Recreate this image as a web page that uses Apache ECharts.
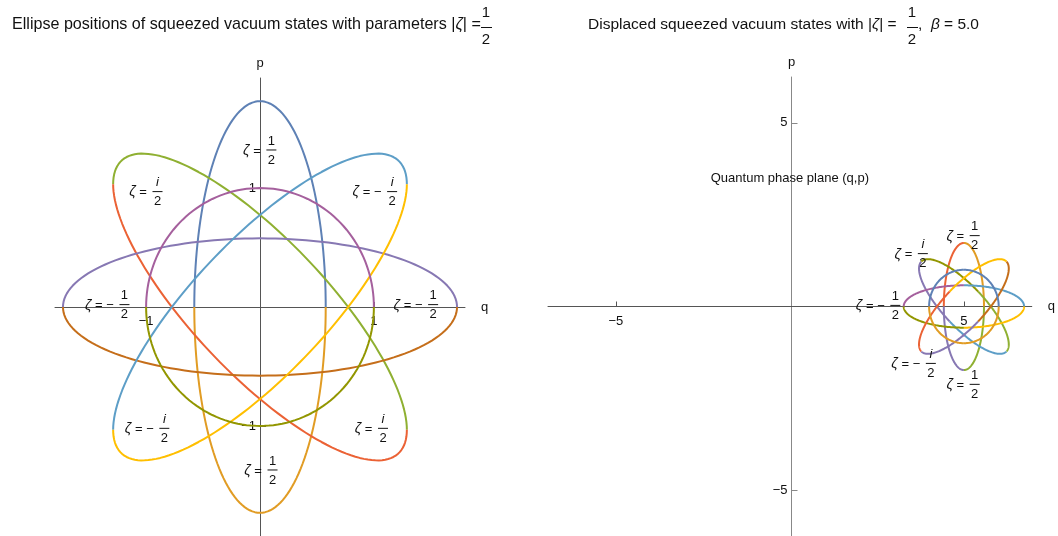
<!DOCTYPE html>
<html>
<head>
<meta charset="utf-8">
<script src="https://cdn.jsdelivr.net/npm/echarts@6/dist/echarts.min.js"></script>
<style>
  html, body { margin: 0; padding: 0; background: #fff; }
  #chart { width: 1058px; height: 536px; }
</style>
</head>
<body>
<div id="chart"></div>
<script>
// ---- left panel: squeezed vacuum ellipses (centre, semi axes, tilt in degrees)
var leftQ0 = [0, 0, 0, 0, 0];
var leftP0 = [0, 0, 0, 0, 0];
var leftMajor = [1.73, 1.73, 1.73, 1.73, 1.0];
var leftMinor = [0.577, 0.577, 0.577, 0.577, 1.0];
var leftTilt = [90, 135, 0, 45, 0];

// ---- right panel: displaced squeezed states, beta = 5
var rightQ0 = [5, 5, 5, 5, 5];
var rightP0 = [0, 0, 0, 0, 0];
var rightMajor = [1.73, 1.73, 1.73, 1.73, 1.0];
var rightMinor = [0.577, 0.577, 0.577, 0.577, 1.0];
var rightTilt = [90, 135, 0, 45, 0];

// ---- labels  zeta = (sign) num / 2
var leftLabelQ = [0.10, -0.90, 1.16, -1.19, 1.52, -0.84, 0.11, 1.08];
var leftLabelP = [1.32, 0.97, 0.97, 0.02, 0.02, -1.02, -1.37, -1.02];
var leftLabelSign = ['', '', '−', '−', '−', '−', '', ''];
var leftLabelNum = ['1', 'i', 'i', '1', '1', 'i', '1', 'i'];

var rightLabelQ = [5.31, 3.82, 3.03, 4.05, 5.31];
var rightLabelP = [1.93, 1.44, 0.03, -1.55, -2.12];
var rightLabelSign = ['', '', '−', '−', ''];
var rightLabelNum = ['1', 'i', '1', 'i', '1'];

// ---- axes
var leftTicks = [-1, 1];
var rightTicks = [-5, 5];
var noteText = 'Quantum phase plane (q,p)';
var noteQ = [0];
var noteP = [3.5];

// Mathematica 97 colours
var c97 = ['#5e81b5', '#e19c24', '#8fb032', '#eb6235', '#8778b3',
           '#c56e1a', '#5d9ec7', '#ffbf00', '#a5609d', '#929600'];
// left: upper / lower branch
var leftColors = [[0, 1], [2, 3], [4, 5], [6, 7], [8, 9]];
// right: four quarter arcs, counted from the +major tip anticlockwise
var rightColors = [[3, 4, 2, 1], [4, 6, 2, 9], [6, 8, 9, 7], [7, 3, 4, 5], [0, 0, 1, 1]];

var FONT = '"Liberation Sans", Arial, sans-serif';
var PI = Math.PI;

var LG = { left: 55, top: 78, width: 410, height: 458, qMin: -1.8, qMax: 1.8, pMin: -1.925, pMax: 1.925 };
var RG = { left: 548, top: 77, width: 487, height: 459, qMin: -6.95, qMax: 6.95, pMin: -6.25, pMax: 6.25 };

function ellPoint(q0, p0, a, b, phi, t) {
  var c = Math.cos(phi), s = Math.sin(phi);
  return [q0 + a * c * Math.cos(t) - b * s * Math.sin(t),
          p0 + a * s * Math.cos(t) + b * c * Math.sin(t)];
}

function ellipseRender(colorSets, quarters) {
  return function (params, api) {
    var q0 = api.value(0), p0 = api.value(1), a = api.value(2), b = api.value(3);
    var phi = api.value(4) * PI / 180;
    var c = Math.cos(phi), s = Math.sin(phi);
    var cuts;
    if (quarters) {
      cuts = [0, PI / 2, PI, 1.5 * PI, 2 * PI];
    } else {
      var tR = Math.atan2(-b * s, a * c);
      cuts = [tR, tR + PI, tR + 2 * PI];
    }
    var cols = colorSets[params.dataIndex];
    var kids = [];
    for (var k = 0; k < cuts.length - 1; k++) {
      var pts = [];
      for (var j = 0; j <= 80; j++) {
        var t = cuts[k] + (cuts[k + 1] - cuts[k]) * j / 80;
        pts.push(api.coord(ellPoint(q0, p0, a, b, phi, t)));
      }
      kids.push({
        type: 'polyline',
        shape: { points: pts },
        style: { stroke: c97[cols[k]], lineWidth: 2, fill: null, lineJoin: 'round' }
      });
    }
    return { type: 'group', children: kids };
  };
}

function labelRender(signs, nums) {
  return function (params, api) {
    var pt = api.coord([api.value(0), api.value(1)]);
    var i = params.dataIndex, x = pt[0], y = pt[1];
    var head = '{z|ζ} = ' + (signs[i] ? '− ' : '');
    return {
      type: 'group',
      children: [
        { type: 'text', x: x - 7, y: y + 1,
          style: { text: head, align: 'right', verticalAlign: 'middle',
                   fontFamily: FONT, fontSize: 13, fill: '#111',
                   rich: { z: { fontStyle: 'italic', fontFamily: FONT, fontSize: 14, fill: '#111' } } } },
        { type: 'line', shape: { x1: x - 5, y1: y, x2: x + 5, y2: y },
          style: { stroke: '#111', lineWidth: 1 } },
        { type: 'text', x: x, y: y - 9,
          style: { text: nums[i], align: 'center', verticalAlign: 'middle',
                   fontFamily: FONT, fontSize: 13, fill: '#111',
                   fontStyle: nums[i] === 'i' ? 'italic' : 'normal' } },
        { type: 'text', x: x, y: y + 10,
          style: { text: '2', align: 'center', verticalAlign: 'middle',
                   fontFamily: FONT, fontSize: 13, fill: '#111' } }
      ]
    };
  };
}

function zip() {
  var cols = Array.prototype.slice.call(arguments);
  return cols[0].map(function (_, i) { return cols.map(function (c) { return c[i]; }); });
}

function tickFmt(v) { return v < 0 ? '−' + (-v) : String(v); }

// axes are moved onto the zero lines with offset so the labels follow them
function makeX(gi, g, ticks, lineColor) {
  var zeroY = g.top + g.height * g.pMax / (g.pMax - g.pMin);
  return {
    gridIndex: gi, type: 'value', min: g.qMin, max: g.qMax,
    offset: zeroY - (g.top + g.height),
    name: 'q', nameLocation: 'end', nameGap: 16,
    nameTextStyle: { fontFamily: FONT, fontSize: 13, color: '#111', verticalAlign: 'middle' },
    axisLine: { onZero: false, lineStyle: { color: lineColor, width: 1 } },
    axisTick: { show: true, inside: true, length: 5, customValues: ticks, lineStyle: { color: lineColor } },
    axisLabel: { customValues: ticks, formatter: tickFmt, margin: 8,
                 fontFamily: FONT, fontSize: 13, color: '#111' },
    splitLine: { show: false }
  };
}
function makeY(gi, g, ticks, lineColor) {
  var zeroX = g.left + g.width * (-g.qMin) / (g.qMax - g.qMin);
  return {
    gridIndex: gi, type: 'value', min: g.pMin, max: g.pMax,
    offset: g.left - zeroX,
    name: 'p', nameLocation: 'end', nameGap: 8,
    nameTextStyle: { fontFamily: FONT, fontSize: 13, color: '#111' },
    axisLine: { onZero: false, lineStyle: { color: lineColor, width: 1 } },
    axisTick: { show: true, inside: true, length: 6, customValues: ticks, lineStyle: { color: lineColor } },
    axisLabel: { customValues: ticks, formatter: tickFmt, margin: 4,
                 fontFamily: FONT, fontSize: 13, color: '#111' },
    splitLine: { show: false }
  };
}

var chart = echarts.init(document.getElementById('chart'), null, { renderer: 'canvas' });

chart.setOption({
  animation: false,
  backgroundColor: '#fff',
  grid: [
    { left: LG.left, top: LG.top, width: LG.width, height: LG.height },
    { left: RG.left, top: RG.top, width: RG.width, height: RG.height }
  ],
  xAxis: [makeX(0, LG, leftTicks, '#555'), makeX(1, RG, rightTicks, '#555')],
  yAxis: [makeY(0, LG, leftTicks, '#555'), makeY(1, RG, rightTicks, '#888')],
  graphic: [
    { type: 'text', left: 12, top: 17,
      style: { text: 'Ellipse positions of squeezed vacuum states with parameters |{z|ζ}| =',
               fontFamily: FONT, fontSize: 16.1, fill: '#111',
               rich: { z: { fontStyle: 'italic', fontFamily: FONT, fontSize: 16.1, fill: '#111' } } } },
    { type: 'text', x: 486, y: 13, style: { text: '1', align: 'center', verticalAlign: 'middle', fontFamily: FONT, fontSize: 15, fill: '#111' } },
    { type: 'line', shape: { x1: 481, y1: 27.5, x2: 492, y2: 27.5 }, style: { stroke: '#111', lineWidth: 1 } },
    { type: 'text', x: 486, y: 40, style: { text: '2', align: 'center', verticalAlign: 'middle', fontFamily: FONT, fontSize: 15, fill: '#111' } },

    { type: 'text', left: 588, top: 17,
      style: { text: 'Displaced squeezed vacuum states with |{z|ζ}| =',
               fontFamily: FONT, fontSize: 15.5, fill: '#111',
               rich: { z: { fontStyle: 'italic', fontFamily: FONT, fontSize: 15.5, fill: '#111' } } } },
    { type: 'text', x: 912, y: 13, style: { text: '1', align: 'center', verticalAlign: 'middle', fontFamily: FONT, fontSize: 15, fill: '#111' } },
    { type: 'line', shape: { x1: 907, y1: 27.5, x2: 918, y2: 27.5 }, style: { stroke: '#111', lineWidth: 1 } },
    { type: 'text', x: 912, y: 40, style: { text: '2', align: 'center', verticalAlign: 'middle', fontFamily: FONT, fontSize: 15, fill: '#111' } },
    { type: 'text', left: 918, top: 17,
      style: { text: ',  {z|β} = 5.0', fontFamily: FONT, fontSize: 15.5, fill: '#111',
               rich: { z: { fontStyle: 'italic', fontFamily: FONT, fontSize: 15.5, fill: '#111' } } } }
  ],
  series: [
    { type: 'custom', xAxisIndex: 0, yAxisIndex: 0, renderItem: ellipseRender(leftColors, false),
      data: zip(leftQ0, leftP0, leftMajor, leftMinor, leftTilt), encode: { x: 0, y: 1 }, silent: true },
    { type: 'custom', xAxisIndex: 0, yAxisIndex: 0, renderItem: labelRender(leftLabelSign, leftLabelNum),
      data: zip(leftLabelQ, leftLabelP), encode: { x: 0, y: 1 }, silent: true, z: 5 },
    { type: 'custom', xAxisIndex: 1, yAxisIndex: 1, renderItem: ellipseRender(rightColors, true),
      data: zip(rightQ0, rightP0, rightMajor, rightMinor, rightTilt), encode: { x: 0, y: 1 }, silent: true },
    { type: 'custom', xAxisIndex: 1, yAxisIndex: 1, renderItem: labelRender(rightLabelSign, rightLabelNum),
      data: zip(rightLabelQ, rightLabelP), encode: { x: 0, y: 1 }, silent: true, z: 5 },
    { type: 'custom', xAxisIndex: 1, yAxisIndex: 1, silent: true,
      data: zip(noteQ, noteP), encode: { x: 0, y: 1 },
      renderItem: function (params, api) {
        var pt = api.coord([api.value(0), api.value(1)]);
        return { type: 'text', x: pt[0], y: pt[1],
                 style: { text: noteText, align: 'center', verticalAlign: 'middle',
                          fontFamily: FONT, fontSize: 13, fill: '#111' } };
      } }
  ]
});
</script>
</body>
</html>
